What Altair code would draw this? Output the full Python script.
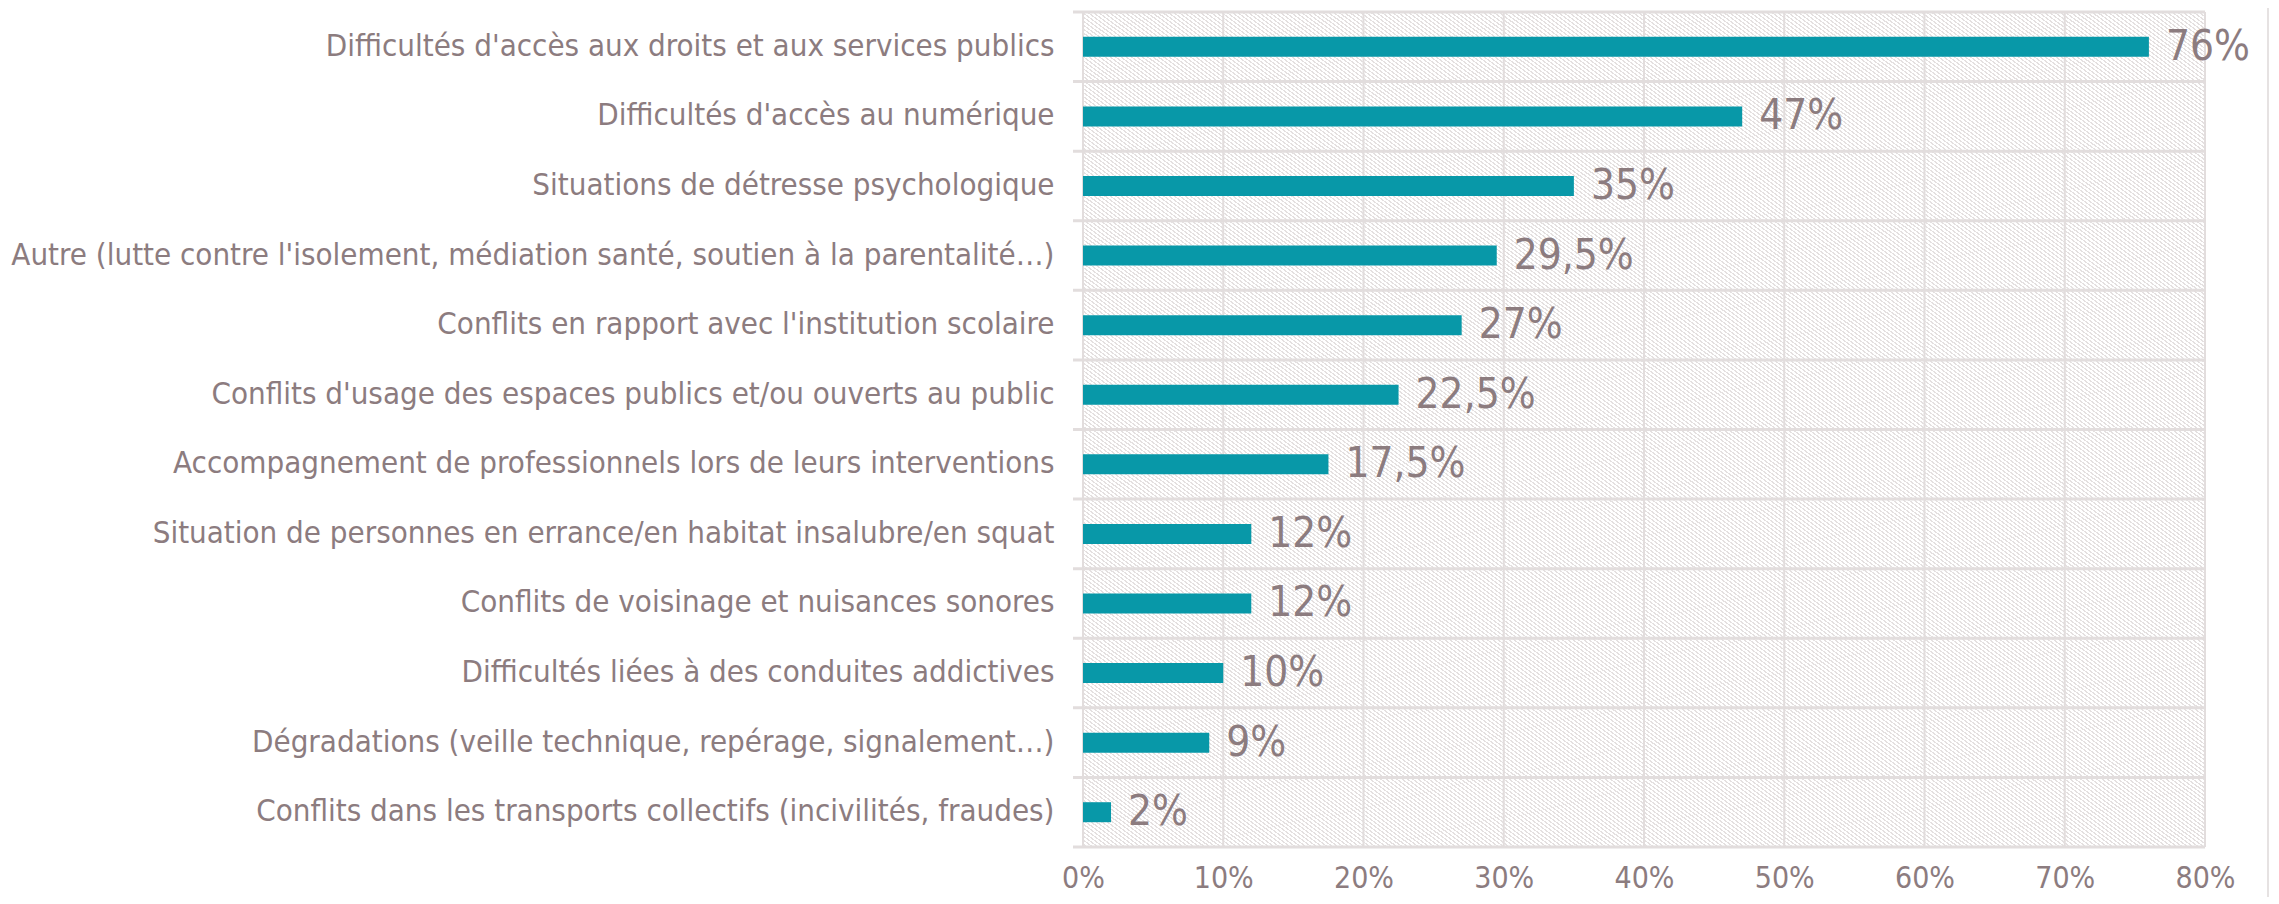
import altair as alt
import pandas as pd

categories = [
    "Difficultés d'accès aux droits et aux services publics",
    "Difficultés d'accès au numérique",
    "Situations de détresse psychologique",
    "Autre (lutte contre l'isolement, médiation santé, soutien à la parentalité…)",
    "Conflits en rapport avec l'institution scolaire",
    "Conflits d'usage des espaces publics et/ou ouverts au public",
    "Accompagnement de professionnels lors de leurs interventions",
    "Situation de personnes en errance/en habitat insalubre/en squat",
    "Conflits de voisinage et nuisances sonores",
    "Difficultés liées à des conduites addictives",
    "Dégradations (veille technique, repérage, signalement…)",
    "Conflits dans les transports collectifs (incivilités, fraudes)",
]
values = [76, 47, 35, 29.5, 27, 22.5, 17.5, 12, 12, 10, 9, 2]
value_labels = ["76%", "47%", "35%", "29,5%", "27%", "22,5%", "17,5%",
                "12%", "12%", "10%", "9%", "2%"]
x_ticks = [0, 10, 20, 30, 40, 50, 60, 70, 80]

FONT = "Liberation Sans Narrow, Arial Narrow, DejaVu Sans Condensed, sans-serif"
TXT = "#8c7c7f"
BAR = "#0898a8"
GRID = "#e2dddd"
W, H = 1122, 835

df = pd.DataFrame({"cat": categories, "val": values, "lab": value_labels})
one = alt.Data(values=[{}])

# diagonal hatch background via hard-stop linear gradient
n = 420
stops = []
for i in range(n):
    a = i / n
    b = (i + 0.62) / n
    c = (i + 1) / n
    stops += [
        {"offset": a, "color": "#ffffff"},
        {"offset": b, "color": "#ffffff"},
        {"offset": b, "color": "#e4e0e0"},
        {"offset": c, "color": "#e4e0e0"},
    ]
gradient = {"gradient": "linear", "x1": 0, "y1": 1, "x2": 1, "y2": 0, "stops": stops}

x_scale = alt.Scale(domain=[0, 80], nice=False)
y_scale = alt.Scale(paddingInner=0, paddingOuter=0)
x_axis = alt.Axis(values=x_ticks, labelExpr="datum.value + '%'", labelFlush=False)

bg = alt.Chart(one).mark_rect(fill=gradient, strokeWidth=0).encode(
    x=alt.value(0), x2=alt.value("width"), y=alt.value(0), y2=alt.value("height")
)

vgrid = alt.Chart(pd.DataFrame({"t": x_ticks})).mark_rule(color=GRID, strokeWidth=2).encode(
    x=alt.X("t:Q", scale=x_scale, title=None, axis=x_axis)
)

hgrid = alt.Chart(df).mark_rule(color=GRID, strokeWidth=3).encode(
    y=alt.Y("cat:N", sort=categories, scale=y_scale, bandPosition=0, title=None),
    x=alt.value(-10), x2=alt.value("width"),
)

bottom = alt.Chart(one).mark_rule(color=GRID, strokeWidth=3).encode(
    y=alt.value("height"), x=alt.value(-10), x2=alt.value("width")
)

# light frame line at the right edge of the chart area
frame = alt.Chart(one).mark_rule(color="#e6e2e2", strokeWidth=2).encode(
    x=alt.value(W + 63), y=alt.value(-4), y2=alt.value(H + 50)
)

y_enc = alt.Y("cat:N", sort=categories, scale=y_scale, title=None,
              axis=alt.Axis(ticks=False, domain=False, labelPadding=29, labelLimit=1100,
                            labelFont=FONT, labelFontSize=31, labelColor=TXT))

bars = alt.Chart(df).mark_bar(color=BAR, size=20).encode(
    x=alt.X("val:Q", scale=x_scale, title=None, axis=x_axis),
    y=y_enc,
)

text = alt.Chart(df).mark_text(align="left", baseline="middle", dx=17, font=FONT,
                               fontSize=42, color=TXT).encode(
    x=alt.X("val:Q", scale=x_scale, title=None),
    y=y_enc,
    text="lab:N",
)

chart = alt.layer(bg, vgrid, hgrid, bottom, frame, bars, text).properties(
    width=W, height=H,
    padding={"left": 1075, "top": 4, "right": 66, "bottom": 50},
    autosize=alt.AutoSizeParams(type="none"),
).configure_view(stroke=None).configure_axisX(
    grid=False, domain=False, ticks=False, labelPadding=16,
    labelFont=FONT, labelFontSize=30, labelColor=TXT,
).configure_axisY(grid=False)

chart.save("out.html", embed_options={"renderer": "svg", "actions": False})
